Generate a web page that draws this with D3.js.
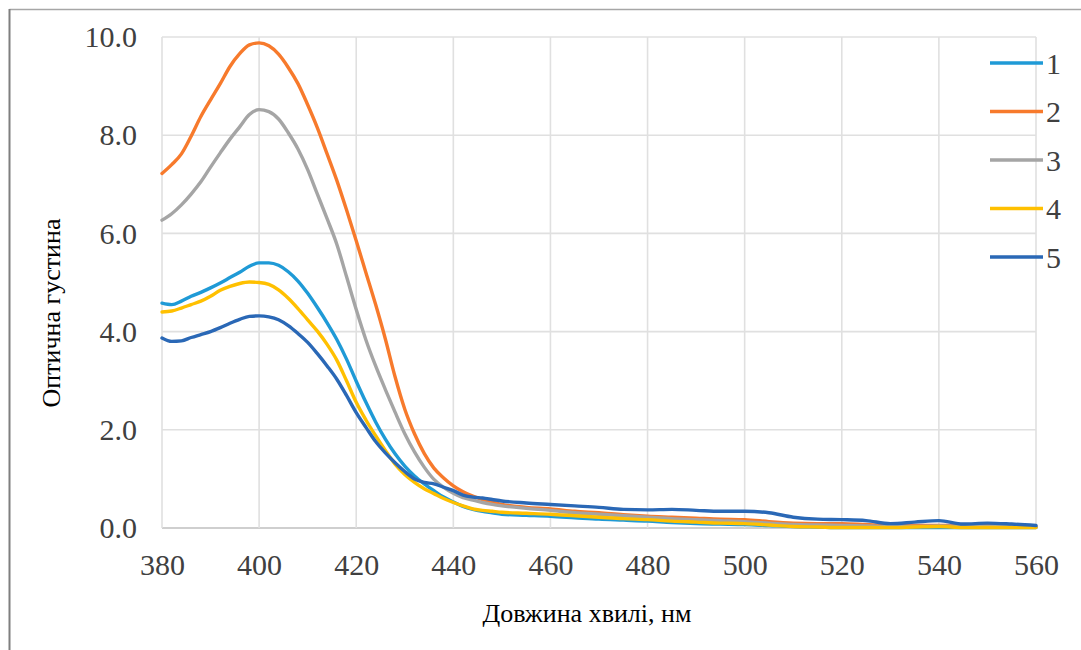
<!DOCTYPE html>
<html>
<head>
<meta charset="utf-8">
<script src="https://cdn.jsdelivr.net/npm/d3@7/dist/d3.min.js"></script>
<style>
  html, body { margin: 0; padding: 0; background: #fff; }
  svg { display: block; }
</style>
</head>
<body>
<svg id="chart" width="1081" height="650"></svg>
<script>
// ---- Data ----
const wavelengths = [380,382,384,386,388,390,392,394,396,398,400,402,404,406,408,410,412,414,416,418,420,422,424,426,428,430,432,434,436,438,440,442,444,446,448,450,
  455,460,465,470,475,480,485,490,495,500,505,510,515,520,525,530,535,540,545,550,555,560];

const series1 = [4.58,4.55,4.62,4.72,4.80,4.89,4.99,5.10,5.21,5.33,5.40,5.40,5.35,5.22,5.03,4.78,4.49,4.18,3.84,3.44,2.99,2.56,2.16,1.81,1.51,1.26,1.06,0.90,0.76,0.63,0.53,0.44,0.38,0.34,0.31,0.28,
  0.26,0.24,0.21,0.18,0.16,0.14,0.11,0.09,0.08,0.07,0.05,0.03,0.02,0.01,0.01,0.01,0.01,0.01,0.01,0.01,0.01,0.01];
const series2 = [7.22,7.40,7.62,7.98,8.38,8.72,9.05,9.40,9.66,9.84,9.88,9.82,9.65,9.38,9.05,8.62,8.15,7.62,7.08,6.48,5.85,5.20,4.55,3.85,3.08,2.42,1.92,1.52,1.22,1.02,0.86,0.74,0.65,0.58,0.53,0.48,
  0.42,0.39,0.34,0.31,0.27,0.24,0.22,0.20,0.18,0.17,0.13,0.10,0.09,0.09,0.07,0.05,0.05,0.05,0.05,0.05,0.04,0.03];
const series3 = [6.27,6.40,6.58,6.80,7.05,7.35,7.64,7.92,8.17,8.42,8.52,8.48,8.33,8.05,7.72,7.30,6.80,6.30,5.78,5.12,4.45,3.83,3.30,2.82,2.36,1.92,1.55,1.24,0.99,0.83,0.71,0.62,0.57,0.52,0.48,0.45,
  0.40,0.36,0.31,0.28,0.25,0.22,0.19,0.17,0.15,0.13,0.10,0.07,0.06,0.05,0.04,0.03,0.03,0.04,0.03,0.03,0.03,0.02];
const series4 = [4.40,4.42,4.48,4.55,4.62,4.72,4.84,4.92,4.98,5.01,5.00,4.96,4.85,4.68,4.47,4.24,4.01,3.74,3.42,3.00,2.56,2.20,1.88,1.58,1.30,1.09,0.93,0.80,0.70,0.60,0.52,0.45,0.39,0.36,0.34,0.32,
  0.30,0.28,0.25,0.22,0.19,0.17,0.14,0.12,0.10,0.09,0.06,0.03,0.02,0.01,0.01,0.01,0.02,0.03,0.01,0.01,0.01,0.01];
const series5 = [3.87,3.80,3.81,3.88,3.94,4.00,4.08,4.17,4.25,4.31,4.32,4.30,4.24,4.12,3.96,3.78,3.55,3.30,3.03,2.70,2.35,2.05,1.76,1.53,1.33,1.15,1.00,0.93,0.90,0.83,0.76,0.67,0.63,0.61,0.58,0.55,
  0.51,0.48,0.45,0.42,0.38,0.37,0.38,0.36,0.34,0.34,0.31,0.22,0.18,0.17,0.15,0.09,0.12,0.15,0.08,0.10,0.08,0.05];

const seriesNames = ["1","2","3","4","5"];
const seriesColors = ["#1f9ad6","#f77a2c","#a5a5a5","#ffc000","#2a68b6"];
const xTicks = [380,400,420,440,460,480,500,520,540,560];
const yTicks = [0,2,4,6,8,10];
const xTitle = "Довжина хвилі, нм";
const yTitle = "Оптична густина";

const allSeries = [series1, series2, series3, series4, series5];

// ---- Layout ----
const FONT = "Liberation Serif";
const svg = d3.select("#chart");
const mLeft = 162, mRight = 1036, mTop = 37, mBottom = 528;

const x = d3.scaleLinear().domain([380, 560]).range([mLeft, mRight]);
const y = d3.scaleLinear().domain([0, 10]).range([mBottom, mTop]);

// frame
svg.append("line").attr("x1", 9.5).attr("x2", 1081).attr("y1", 9.5).attr("y2", 9.5)
  .attr("stroke", "#a6a6a6").attr("stroke-width", 1.5);
svg.append("line").attr("x1", 9.5).attr("x2", 9.5).attr("y1", 9).attr("y2", 650)
  .attr("stroke", "#7f7f7f").attr("stroke-width", 2);

// gridlines
const grid = svg.append("g");
grid.selectAll("line.h").data(yTicks).enter().append("line")
  .attr("x1", mLeft).attr("x2", mRight)
  .attr("y1", d => y(d)).attr("y2", d => y(d))
  .attr("stroke", d => d === 0 ? "#cfcfcf" : "#e0e0e0")
  .attr("stroke-width", d => d === 0 ? 2 : 1.6);
grid.selectAll("line.v").data(xTicks).enter().append("line")
  .attr("x1", d => x(d)).attr("x2", d => x(d))
  .attr("y1", mTop).attr("y2", mBottom)
  .attr("stroke", "#e0e0e0").attr("stroke-width", 1.6);

// axes labels via d3 axes
const yAxis = d3.axisLeft(y).tickValues(yTicks).tickFormat(d3.format(".1f")).tickSize(0).tickPadding(25);
const gy = svg.append("g").attr("transform", `translate(${mLeft},0)`).call(yAxis)
  .attr("font-family", FONT).attr("font-size", 30);
gy.select(".domain").remove();
gy.selectAll("text").style("font-family", FONT).style("font-size", "30px").attr("fill", "#404040");

const xAxis = d3.axisBottom(x).tickValues(xTicks).tickFormat(d3.format("d")).tickSize(0).tickPadding(26);
const gx = svg.append("g").attr("transform", `translate(0,${mBottom})`).call(xAxis)
  .attr("font-family", FONT).attr("font-size", 30);
gx.select(".domain").remove();
gx.selectAll("text").style("font-family", FONT).style("font-size", "30px").attr("fill", "#404040");

// titles
svg.append("text").attr("x", 587).attr("y", 622).attr("text-anchor", "middle")
  .style("font-family", FONT).style("font-size", "26px").attr("fill", "#000").text(xTitle);
svg.append("text").attr("transform", "translate(60,313) rotate(-90)").attr("text-anchor", "middle")
  .style("font-family", FONT).style("font-size", "26px").attr("fill", "#000").text(yTitle);

// lines
const line = d3.line().x((d, i) => x(wavelengths[i])).y(d => y(d)).curve(d3.curveMonotoneX);
svg.append("g").selectAll("path").data(allSeries).enter().append("path")
  .attr("d", d => line(d))
  .attr("fill", "none")
  .attr("stroke", (d, i) => seriesColors[i])
  .attr("stroke-width", 3.4)
  .attr("stroke-linejoin", "round").attr("stroke-linecap", "round");

// legend
const lg = svg.append("g");
const legendY = d3.scalePoint().domain(seriesNames).range([63, 257]);
seriesNames.forEach((n, i) => {
  lg.append("line").attr("x1", 990).attr("x2", 1043)
    .attr("y1", legendY(n)).attr("y2", legendY(n))
    .attr("stroke", seriesColors[i]).attr("stroke-width", 3.4);
  lg.append("text").attr("x", 1046).attr("y", legendY(n)).attr("dy", "0.35em")
    .style("font-family", FONT).style("font-size", "30px").attr("fill", "#404040").text(n);
});
</script>
</body>
</html>
